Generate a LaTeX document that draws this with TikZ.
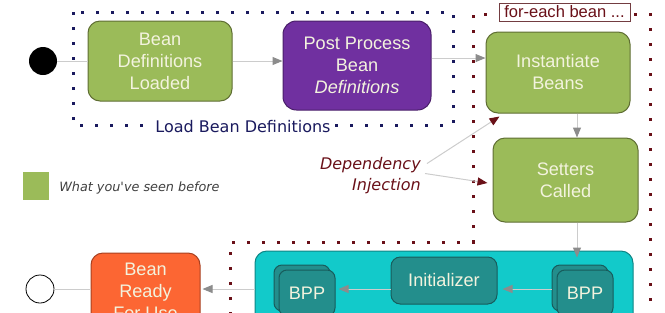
\documentclass[tikz,border=0pt]{standalone}
\usepackage{fontspec}
\setmainfont{Liberation Sans}
\newfontfamily\verdana{DejaVu Sans}
\usetikzlibrary{arrows.meta, positioning, calc}

\definecolor{stagegreen}{HTML}{9BBB59}
\definecolor{greenedge}{HTML}{5F6E33}
\definecolor{stagepurple}{HTML}{7030A0}
\definecolor{purpleedge}{HTML}{4A1F6A}
\definecolor{stageorange}{HTML}{FC6633}
\definecolor{orangeedge}{HTML}{A84020}
\definecolor{pipecyan}{HTML}{12CACA}
\definecolor{cyanedge}{HTML}{0E8585}
\definecolor{stepteal}{HTML}{238E8C}
\definecolor{tealedge}{HTML}{175C5C}
\definecolor{paletext}{HTML}{F3F3DE}
\definecolor{navydot}{HTML}{1A1A5E}
\definecolor{darkred}{HTML}{6A1018}
\definecolor{linegrey}{HTML}{CCCCCC}
\definecolor{headgrey}{HTML}{8C8C8C}

\tikzset{
  stage/.style={draw, line width=0.75pt, rounded corners=9pt, align=center,
    inner sep=0pt, text=paletext, font=\fontsize{13.6}{16.5}\selectfont},
  bpp/.style={stage, fill=stepteal, draw=tealedge, rounded corners=6pt,
    minimum width=42pt, minimum height=34.5pt},
  navydots/.style={draw=navydot, line width=2.25pt, dash pattern=on 2.25pt off 9pt},
  reddots/.style={draw=darkred, line width=2.25pt, dash pattern=on 2.25pt off 9pt},
  flow/.style={draw=linegrey, line width=0.75pt,
    -{Triangle[length=7.5pt, width=6pt, color=headgrey]}},
  inject/.style={draw=linegrey, line width=0.75pt,
    -{Triangle[length=7.5pt, width=6pt, color=darkred]}},
  link/.style={draw=linegrey, line width=0.75pt}
}

\begin{document}
\begin{tikzpicture}[x=0.75pt, y=-0.75pt]
  \useasboundingbox (0,0) rectangle (665,312);

  % dotted groups
  \draw[navydots] (73,12) rectangle (453,125);
  \draw[reddots] (230,330) -- (230,242) -- (473,242) -- (473,14) -- (650,14) -- (650,330);

  % start and end
  \node[circle, fill=black, minimum size=21pt, inner sep=0pt] (startdot) at (43,61) {};
  \node[circle, draw=black, line width=0.6pt, minimum size=21pt, inner sep=0pt] (enddot) at (40,289) {};

  % top stages
  \node[stage, fill=stagegreen, draw=greenedge, minimum width=108pt, minimum height=60pt]
    (loaded) at (160,61) {Bean\\Definitions\\Loaded};
  \node[stage, fill=stagepurple, draw=purpleedge, rounded corners=10pt,
    minimum width=111pt, minimum height=66.75pt]
    (postproc) at (357,65.5) {Post Process\\Bean\\\itshape Definitions};
  \node[stage, fill=stagegreen, draw=greenedge, minimum width=108pt, minimum height=60.75pt]
    (inst) at (558,72.5) {Instantiate\\Beans};
  \node[stage, fill=stagegreen, draw=greenedge, minimum width=108.75pt, minimum height=63pt]
    (setters) at (565.5,180) {Setters\\Called};

  % labels
  \node[fill=white, text=navydot, inner sep=1pt, font=\verdana\fontsize{12}{14}\selectfont]
    (loadlbl) at (243,127) {Load Bean Definitions};
  \node[draw=darkred!60!gray, fill=white, text=darkred, line width=0.6pt, inner sep=0pt,
    minimum width=98.25pt, minimum height=13.5pt, font=\fontsize{12.4}{14}\selectfont]
    (foreach) at (564.5,12) {for-each bean ...};
  \node[anchor=east, align=right, text=darkred, inner sep=0pt,
    font=\verdana\itshape\fontsize{12}{15.75}\selectfont]
    (depinj) at (421,175.5) {Dependency\\Injection};

  % legend
  \node[fill=stagegreen, minimum width=19.5pt, minimum height=21pt, inner sep=0pt]
    (legbox) at (36,186) {};
  \node[anchor=west, text=black!75, inner sep=0pt,
    font=\verdana\itshape\fontsize{9.6}{11}\selectfont]
    (legtext) at (59,188) {What you've seen before};

  % bottom stages
  \node[stage, fill=pipecyan, draw=cyanedge, minimum width=283.5pt, minimum height=75pt]
    (pipe) at (444,301) {};
  \node[stage, fill=stepteal, draw=tealedge, rounded corners=7pt,
    minimum width=79.5pt, minimum height=35.25pt]
    (init) at (444,280.5) {Initializer};
  \node[bpp] (bpprback) at (580,288) {};
  \node[bpp] (bppr) at (585,293) {BPP};
  \node[bpp] (bpplback) at (302,288) {};
  \node[bpp] (bppl) at (307,293) {BPP};
  \node[stage, fill=stageorange, draw=orangeedge, minimum width=81.75pt, minimum height=57pt]
    (ready) at (145.5,291) {Bean\\Ready\\For Use};

  % connectors
  \coordinate (dcol) at (577,0);
  \coordinate (brow) at (0,289);
  \draw[link] (startdot) -- (loaded);
  \draw[flow] (loaded.east) -- (loaded.east -| postproc.west);
  \draw[flow] ([yshift=5.6pt]postproc.east) -- ([yshift=5.6pt]postproc.east -| inst.west);
  \draw[flow] (inst.south -| dcol) -- (setters.north -| dcol);
  \draw[flow] (setters.south -| dcol) -- ($(pipe.north -| dcol)+(0,7)$);
  \draw[inject] ($(depinj.east)+(6,-12)$) -- ($(inst.south west)+(14,3)$);
  \draw[inject] ($(depinj.east)+(4,-2)$) -- ($(setters.west)+(-5,3)$);
  \draw[flow] (bpprback.west |- brow) -- ($(init.east |- brow)+(5,0)$);
  \draw[flow] (init.west |- brow) -- ($(bppl.east |- brow)+(3,0)$);
  \draw[flow] (pipe.west |- brow) -- ($(ready.east |- brow)+(2,0)$);
  \draw[link] (ready.west |- brow) -- (enddot);
\end{tikzpicture}
\end{document}
